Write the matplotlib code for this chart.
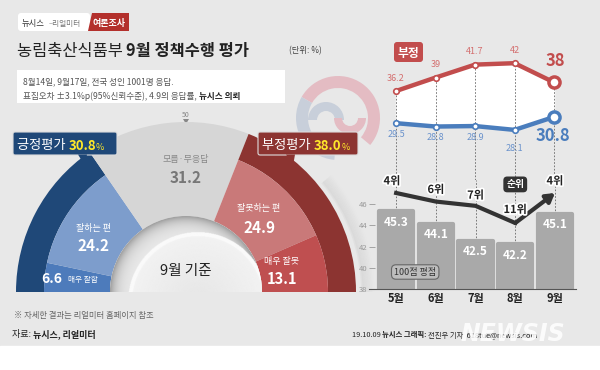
import matplotlib
matplotlib.use("Agg")
import matplotlib.pyplot as plt
import matplotlib.patheffects as pe
from matplotlib.patches import Wedge, FancyBboxPatch, Polygon, Rectangle
import numpy as np

plt.rcParams['font.family'] = ['Noto Sans CJK KR', 'DejaVu Sans']

# ---- data ----
months = ['5월', '6월', '7월', '8월', '9월']
negative = [36.2, 39, 41.7, 42, 38]
positive = [29.5, 28.8, 28.9, 28.1, 30.8]
score = [45.3, 44.1, 42.5, 42.2, 45.1]
rank = [4, 6, 7, 11, 4]

# September breakdown (%)
very_good = 6.6
good = 24.2
dont_know = 31.2
bad = 24.9
very_bad = 13.1
pos_total = 30.8
neg_total = 38.0

BG = '#e8e8e8'
DBLUE = '#1f4878'
MBLUE = '#4d7bbb'
LBLUE = '#7d9dcc'
DRED = '#8c3431'
MRED = '#bf4f50'
LRED = '#c97979'
GRAY = '#d6d6d6'
RED = '#c24d4d'
BLUE = '#4a7dbd'

fig = plt.figure(figsize=(6, 3.7), dpi=100, facecolor=BG)
ax0 = fig.add_axes([0, 0, 1, 1])
ax0.set_xlim(0, 600)
ax0.set_ylim(370, 0)
ax0.axis('off')
ax0.add_patch(Rectangle((0, 346), 600, 30, color='white', zorder=0))

rend = fig.canvas.get_renderer()


def runs(x, y, parts, **common):
    for txt, kw in parts:
        t = ax0.text(x, y, txt, **{**common, **kw})
        x += t.get_window_extent(renderer=rend).width
    return x


def px_axes(left, top, right, bottom):
    return fig.add_axes([left / 600, 1 - bottom / 370, (right - left) / 600, (bottom - top) / 370])


def ring(center, r, a_lo, a_hi, width, color, z=2, **kw):
    # angles are screen angles (counter-clockwise from the right); y axis is flipped
    p = Wedge(center, r, -a_hi, -a_lo, width=width, fc=color, ec='none', zorder=z, **kw)
    ax0.add_patch(p)
    return p


# ---- header ----
ax0.add_patch(FancyBboxPatch((18, 13), 72, 18, boxstyle='round,pad=0,rounding_size=3',
                             fc='white', ec='none'))
ax0.add_patch(Polygon([(92, 13), (129, 13), (129, 31), (88, 31)], closed=True,
                      fc='#b3302c', ec='none'))
ax0.text(22, 26, '뉴시스', fontsize=6, color='#333', va='baseline')
ax0.text(49, 26, '–리얼미터', fontsize=5.5, color='#777', va='baseline')
ax0.text(109, 26, '여론조사', fontsize=6.5, color='white', fontweight='bold',
         va='baseline', ha='center')

runs(17, 56, [('농림축산식품부 ', {}), ('9월 정책수행 평가', {'fontweight': 'bold'})],
     fontsize=11.8, color='#222', va='baseline')
ax0.text(289, 53, '(단위: %)', fontsize=6, color='#444', va='baseline')

ax0.add_patch(Rectangle((17, 70), 268, 33, fc='white', ec='none', zorder=3))
ax0.text(23, 84, '8월14일, 9월17일, 전국 성인 1001명 응답.', fontsize=6.2,
         color='#555', va='baseline', zorder=4)
runs(23, 99, [('표집오차 ±3.1%p(95%신뢰수준), 4.9의 응답률, ', {}),
              ('뉴시스 의뢰', {'fontweight': 'bold', 'color': '#222'})],
     fontsize=6.2, color='#555', va='baseline', zorder=4)

# faint emblem behind
ec_ = (338, 118)
ring(ec_, 42, -40, 150, 12, '#e4bcc3', z=1)
ring(ec_, 42, 150, 265, 12, '#c8cfda', z=1)
ring((326, 120), 18, 0, 180, 9, '#c8cfda', z=1)
ring((350, 118), 16, 180, 360, 8, '#e4bcc3', z=1)

# ---- semicircle gauge ----
cx, cy = 186, 292
r_out, r_mid, r_in = 170, 142, 76


def ang(share):
    return 180 - 1.8 * share


# soft shadow to the right of the gauge
for k in range(8):
    ring((cx + 6, cy), r_out + 2 + k * 1.5, 0, 40, 3, '#9a9a9a', z=1,
         alpha=0.09 * (8 - k) / 8)

a0 = ang(0)
a1 = ang(very_good)
a2 = ang(very_good + good)
a3 = ang(pos_total + dont_know)
a4 = ang(pos_total + dont_know + bad)
a5 = ang(100)

ring((cx, cy), r_out, a2, a0, r_out - r_mid, DBLUE)
ring((cx, cy), r_mid, a1, a0, r_mid - r_in, MBLUE)
ring((cx, cy), r_mid, a2, a1, r_mid - r_in, LBLUE)
ring((cx, cy), r_out, a3, a2, r_out - r_in, GRAY)
ring((cx, cy), r_out, a5, a3, r_out - r_mid, DRED)
ring((cx, cy), r_mid, a4, a3, r_mid - r_in, LRED)
ring((cx, cy), r_mid, a5, a4, r_mid - r_in, MRED)

# inner hole with a page-curl shading
hole = ring((cx, cy), r_in, 0, 180, r_in, '#ececec', z=3)
gx, gy = np.meshgrid(np.linspace(cx - r_in, cx + r_in, 300), np.linspace(cy - r_in, cy, 150))
rr = np.hypot(gx - cx, gy - cy)
rc = np.hypot(gx - (cx + 12), gy - (cy + 10))
shade = 0.62 + 0.3 * (1 - np.exp(-(r_in - rr) / 7))
curl = rc < 70
shade = np.where(curl, 0.95 - 0.05 * np.clip((70 - rc) / 70, 0, 1), shade)
shade = np.where(curl & (rc > 66), 0.98, shade)
img = ax0.imshow(shade, cmap='gray', vmin=0, vmax=1, extent=(cx - r_in, cx + r_in, cy, cy - r_in),
                 origin='upper', zorder=3.5, interpolation='bilinear')
img.set_clip_path(hole)
ax0.set_xlim(0, 600)
ax0.set_ylim(370, 0)
ax0.set_aspect('auto')
ax0.text(cx, 275, '9월 기준', fontsize=10.5, color='#222', ha='center', va='baseline', zorder=5)

# 50 marker
ax0.text(cx, 117, '50', fontsize=5, color='#888', ha='center', va='baseline')
ax0.add_patch(Polygon([(cx - 3, 119), (cx + 3, 119), (cx, 124)], fc='#888', ec='none'))

# segment labels
ax0.text(cx, 162, '모름·무응답', fontsize=6.5, color='#888', ha='center', va='baseline', zorder=5)
ax0.text(cx, 183, f'{dont_know}', fontsize=11, color='#777', fontweight='bold',
         ha='center', va='baseline', zorder=5)
ax0.text(93, 231, '잘하는 편', fontsize=6.5, color='white', ha='center', va='baseline', zorder=5)
ax0.text(93, 251, f'{good}', fontsize=11, color='white', fontweight='bold',
         ha='center', va='baseline', zorder=5)
ax0.text(52, 283, f'{very_good}', fontsize=10, color='white', fontweight='bold',
         ha='center', va='baseline', zorder=5)
ax0.text(83, 282, '매우 잘함', fontsize=5.5, color='white', ha='center', va='baseline', zorder=5)
ax0.text(259, 211, '잘못하는 편', fontsize=6.5, color='white', ha='center', va='baseline', zorder=5)
ax0.text(259, 233, f'{bad}', fontsize=11, color='white', fontweight='bold',
         ha='center', va='baseline', zorder=5)
ax0.text(282, 264, '매우 잘못', fontsize=6.5, color='white', ha='center', va='baseline', zorder=5)
ax0.text(282, 284, f'{very_bad}', fontsize=10.5, color='white', fontweight='bold',
         ha='center', va='baseline', zorder=5)

# callouts
for (x0, x1, ptx, color, label, val) in [
        (13, 117, 84, DBLUE, '긍정평가 ', pos_total),
        (258, 358, 292, DRED, '부정평가 ', neg_total)]:
    ax0.add_patch(FancyBboxPatch((x0, 132), x1 - x0, 23, boxstyle='round,pad=0,rounding_size=2',
                                 fc=color, ec='#dddddd', lw=0.8, zorder=6))
    ax0.add_patch(Polygon([(ptx - 6, 154.5), (ptx + 3, 154.5), (ptx + 1, 166)],
                          fc=color, ec='none', zorder=6))
    runs(x0 + 4, 149.5, [(label, {'color': 'white', 'fontsize': 9.5}),
                         (f'{val:.1f}', {'color': '#ffe82a', 'fontsize': 9.5,
                                         'fontweight': 'bold'}),
                         ('%', {'color': '#ffe82a', 'fontsize': 6.5})],
         va='baseline', zorder=7)

# ---- line chart (positive / negative trend) ----
x = np.arange(len(months))
xl = (-0.684, 4.53)
axl = px_axes(369, 40, 575, 180)
axl.set_xlim(*xl)
axl.set_ylim(17.66, 46.83)
axl.axis('off')
axl.patch.set_alpha(0)
axl.fill_between(x, positive, negative, color='white', zorder=1)
axl.vlines(x, 17.66, negative, colors='#666', linestyles=(0, (2, 2)), lw=0.6, zorder=2)
axl.plot(x, negative, color=RED, lw=3.2, zorder=3, solid_capstyle='round')
axl.plot(x, positive, color=BLUE, lw=3.2, zorder=3, solid_capstyle='round')
axl.plot(x[:-1], negative[:-1], 'o', ms=4, mfc='white', mec=RED, mew=1.2, zorder=4)
axl.plot(x[:-1], positive[:-1], 'o', ms=4, mfc='white', mec=BLUE, mew=1.2, zorder=4)
axl.plot(x[-1:], negative[-1:], 'o', ms=8, mfc='white', mec=RED, mew=2.5, zorder=4)
axl.plot(x[-1:], positive[-1:], 'o', ms=8, mfc='white', mec=BLUE, mew=2.5, zorder=4)
for i in range(len(x) - 1):
    axl.annotate(f'{negative[i]:g}', (x[i], negative[i]), xytext=(0, 6), textcoords='offset points',
                 ha='center', va='bottom', fontsize=6.5, color='#d46f6f')
    off = -10 if i == 3 else -5
    axl.annotate(f'{positive[i]:g}', (x[i], positive[i]), xytext=(0, off), textcoords='offset points',
                 ha='center', va='top', fontsize=6.5, color='#6b93cc')
axl.annotate(f'{negative[-1]:g}', (x[-1], negative[-1]), xytext=(1, 9), textcoords='offset points',
             ha='center', va='bottom', fontsize=12, color=RED, fontweight='bold')
axl.annotate(f'{positive[-1]:g}', (x[-1], positive[-1]), xytext=(-1, -7), textcoords='offset points',
             ha='center', va='top', fontsize=12, color=BLUE, fontweight='bold')

ax0.add_patch(FancyBboxPatch((394, 42), 29, 20, boxstyle='round,pad=0,rounding_size=3',
                             fc=RED, ec='none', zorder=5))
ax0.text(408.5, 57, '부정', fontsize=8.5, color='white', fontweight='bold', ha='center',
         va='baseline', zorder=6)
ax0.add_patch(FancyBboxPatch((487, 97), 30, 20, boxstyle='round,pad=0,rounding_size=3',
                             fc=BLUE, ec='none', zorder=5))
ax0.text(502, 112, '긍정', fontsize=8.5, color='white', fontweight='bold', ha='center',
         va='baseline', zorder=6)

# ---- bar chart (100-point score) ----
axb = px_axes(369, 180, 576, 289)
axb.set_xlim(*xl)
axb.set_ylim(38, 48.26)
axb.patch.set_alpha(0)
axb.bar(x, score, width=0.86, color='#a9a9a9', edgecolor='#a9a9a9', lw=3,
        joinstyle='round', zorder=2)
axb.vlines(x, score, 48.26, colors='#666', linestyles=(0, (2, 2)), lw=0.6, zorder=1)
for i, v in enumerate(score):
    axb.annotate(f'{v}', (x[i], v), xytext=(0, -3), textcoords='offset points',
                 ha='center', va='top', fontsize=8.5, color='white', fontweight='bold', zorder=5)
for s in ['top', 'left', 'right']:
    axb.spines[s].set_visible(False)
axb.spines['bottom'].set_color('#555')
axb.spines['bottom'].set_linewidth(0.8)
axb.yaxis.tick_right()
axb.set_yticks([38, 40, 42, 44, 46])
axb.tick_params(axis='y', length=4, width=0.6, color='#999', labelsize=5.5,
                labelcolor='#999', pad=1, direction='in')
axb.set_xticks(x)
axb.set_xticklabels(months, fontsize=8, fontweight='bold', color='#222')
axb.tick_params(axis='x', length=0, pad=2)

axb.text(0.48, 39.6, '100점 평점', fontsize=6.5, color='#333', ha='center',
         va='center', zorder=6,
         bbox=dict(boxstyle='round,pad=0.3,rounding_size=0.5', fc='#bdbdbd', ec='#666', lw=0.8))

# rank line
axr = axb.twinx()
axr.set_ylim(26.4, 0.97)
axr.axis('off')
axr.plot(x[:-1], rank[:-1], color='#333', lw=3, zorder=4, solid_joinstyle='round')
axr.annotate('', xy=(x[-1], rank[-1]), xytext=(x[-2], rank[-2]),
             arrowprops=dict(arrowstyle='-|>,head_length=0.5,head_width=0.3', color='#333', lw=3,
                             shrinkA=0, shrinkB=0), zorder=4)
stroke = [pe.withStroke(linewidth=2.5, foreground='white')]
r_off = [(-3, 4), (0, 4), (0, 3), (0, 5), (0, 4)]
for i, r in enumerate(rank):
    axr.annotate(f'{r}위', (x[i], r), xytext=r_off[i], textcoords='offset points',
                 ha='center', va='bottom', fontsize=8, color='#222', fontweight='bold',
                 path_effects=stroke, zorder=6)
axr.text(x[3], 2.0, '순위', fontsize=7, color='white', fontweight='bold', ha='center', va='center',
         zorder=6, bbox=dict(boxstyle='round,pad=0.3,rounding_size=0.4', fc='#333', ec='none'))

# ---- footer ----
ax0.text(14, 318, '※ 자세한 결과는 리얼미터 홈페이지 참조', fontsize=6, color='#666', va='baseline')
runs(12, 337, [('자료: ', {}), ('뉴시스, 리얼미터', {'fontweight': 'bold'})],
     fontsize=6.5, color='#222', va='baseline')
runs(352, 337, [('19.10.09 ', {}), ('뉴시스 그래픽: ', {'fontweight': 'bold'}),
                ('전진우 기자  618tue@newsis.com', {})],
     fontsize=5.3, color='#222', va='baseline')
ax0.text(513, 334, 'NEWSIS', fontsize=17, color='white', alpha=0.85, fontstyle='italic',
         fontweight='bold', ha='center', va='center', family='DejaVu Sans', zorder=8)

fig.savefig('out.png', dpi=100, facecolor=BG)
